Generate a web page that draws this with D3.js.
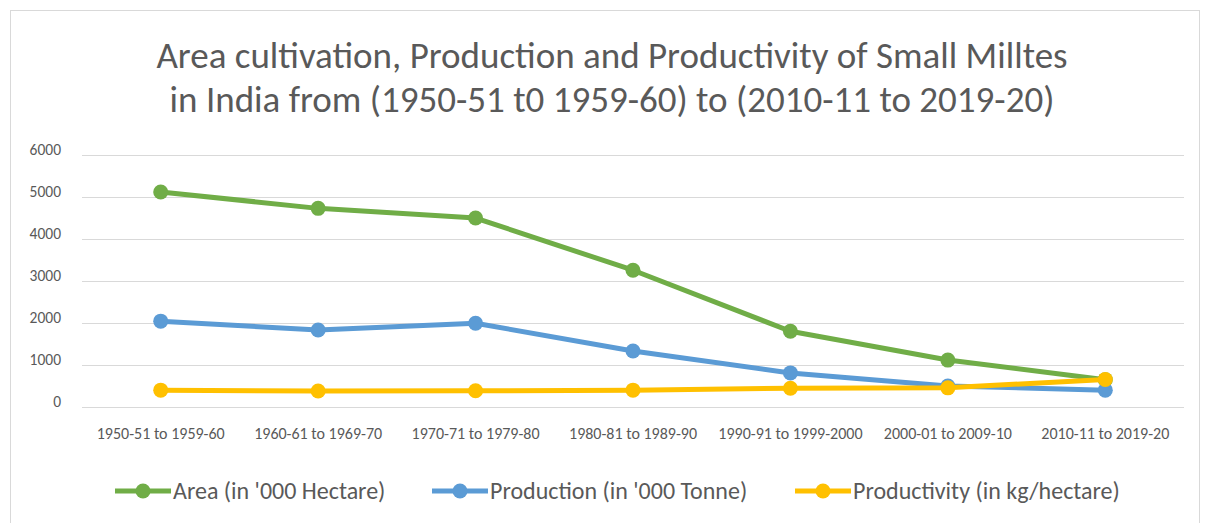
<!DOCTYPE html>
<html>
<head>
<meta charset="utf-8">
<script src="https://cdn.jsdelivr.net/npm/d3@7"></script>
<style>
  body { margin: 0; background: #fff; }
  svg text { font-family: Carlito, Calibri, Lato, "Open Sans", sans-serif; fill: #595959; }
</style>
</head>
<body>
<svg id="chart" width="1206" height="523"></svg>
<script>
// donnees
var periods = ["1950-51 to 1959-60", "1960-61 to 1969-70", "1970-71 to 1979-80", "1980-81 to 1989-90",
  "1990-91 to 1999-2000", "2000-01 to 2009-10", "2010-11 to 2019-20"];
var area = [5110, 4720, 4490, 3250, 1800, 1115, 650];
var production = [2040, 1830, 1990, 1330, 810, 500, 400];
var productivity = [400, 380, 385, 400, 445, 455, 655];
var yTicks = [0, 1000, 2000, 3000, 4000, 5000, 6000];

var seriesNames = ["Area (in '000 Hectare)", "Production (in '000 Tonne)", "Productivity (in kg/hectare)"];
var colors = ["#70ad47", "#5b9bd5", "#ffc000"];
var allSeries = [area, production, productivity];

var svg = d3.select("#chart");

// cadre du graphique
svg.append("rect")
  .attr("x", 10.5).attr("y", 10.5)
  .attr("width", 1189).attr("height", 530)
  .attr("fill", "white")
  .attr("stroke", "#d9d9d9");

// titre
svg.append("text").attr("x", 612).attr("y", 68)
  .attr("text-anchor", "middle").attr("font-size", 37)
  .text("Area cultivation, Production and Productivity of Small Milltes");
svg.append("text").attr("x", 612).attr("y", 112)
  .attr("text-anchor", "middle").attr("font-size", 37)
  .text("in India from (1950-51 t0 1959-60) to (2010-11 to 2019-20)");

var pLeft = 82, pRight = 1184, pTop = 154.5, pBottom = 407;

var x = d3.scaleBand().domain(periods).range([pLeft, pRight]);
var y = d3.scaleLinear().domain([0, 6000]).range([pBottom, pTop]);

// grille
svg.append("g").selectAll("line")
  .data(yTicks).enter().append("line")
  .attr("x1", pLeft).attr("x2", pRight)
  .attr("y1", d => Math.round(y(d)) + 0.5)
  .attr("y2", d => Math.round(y(d)) + 0.5)
  .attr("stroke", "#d9d9d9").attr("stroke-width", 1);

// axe y (pas de virgule dans les milliers)
var yAxis = svg.append("g")
  .attr("transform", "translate(" + (pLeft - 21) + ",-5)")
  .call(d3.axisLeft(y).tickValues(yTicks).tickFormat(d3.format("d")).tickSize(0).tickPadding(0));
yAxis.select(".domain").remove();
yAxis.selectAll("text").attr("font-size", 15.5).attr("fill", "#595959")
  .style("font-family", "Carlito, Calibri, Lato, sans-serif");

// axe x
var xAxis = svg.append("g")
  .attr("transform", "translate(0," + pBottom + ")")
  .call(d3.axisBottom(x).tickSize(0).tickPadding(21));
xAxis.select(".domain").remove();
xAxis.selectAll("text").attr("font-size", 16).attr("fill", "#595959")
  .style("font-family", "Carlito, Calibri, Lato, sans-serif");

var cx = d => x(d) + x.bandwidth() / 2;

var line = d3.line()
  .x((d, i) => cx(periods[i]))
  .y(d => y(d));

allSeries.forEach(function(vals, k){
  var g = svg.append("g");
  g.append("path")
    .datum(vals)
    .attr("d", line)
    .attr("fill", "none")
    .attr("stroke", colors[k])
    .attr("stroke-width", 5)
    .attr("stroke-linejoin", "round");
  g.selectAll("circle")
    .data(vals).enter().append("circle")
    .attr("cx", (d, i) => cx(periods[i]))
    .attr("cy", d => y(d))
    .attr("r", 7.5)
    .attr("fill", colors[k]);
});

// legende
var legendX = [115, 432, 795];
seriesNames.forEach(function(name, k){
  var lg = svg.append("g").attr("transform", "translate(" + legendX[k] + ",491)");
  lg.append("line").attr("x1", 0).attr("x2", 56).attr("y1", 0).attr("y2", 0)
    .attr("stroke", colors[k]).attr("stroke-width", 5);
  lg.append("circle").attr("cx", 28).attr("cy", 0).attr("r", 7.5).attr("fill", colors[k]);
  lg.append("text").attr("x", 58).attr("y", 8).attr("font-size", 24).text(name);
});
</script>
</body>
</html>
